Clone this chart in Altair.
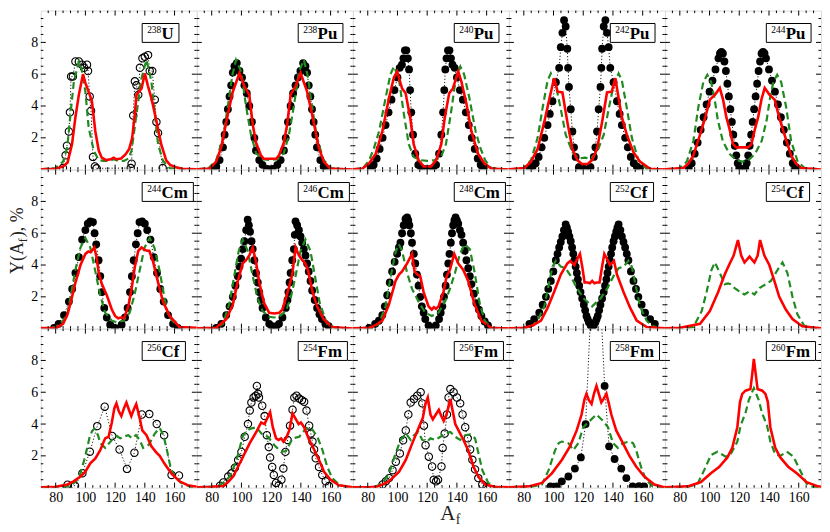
import altair as alt
import pandas as pd

# ---------------- data ----------------
U238_red = [(70,0.02),(80,0.05),(85,0.2),(88,0.45),(91,1.6),(93.3,3.3),(95.6,4.7),(98.4,6.0),(100,5.45),(102.2,4.9),(104.4,4.3),(106.7,2.4),(109,1.2),(111,0.75),(114,0.6),(117,0.65),(119,0.75),(121,0.65),(124,0.7),(127,0.95),(129.5,1.3),(131.5,2.0),(133.3,3.5),(134.4,4.7),(137.8,5.1),(140,6.05),(142,5.3),(144.4,4.5),(147.8,3.06),(151,1.6),(154.4,0.58),(157,0.3),(161,0.15),(165,0.05),(175,0.02)]
U238_green = [(70,0.02),(80,0.1),(85,0.5),(87.8,1.4),(90,3.5),(92.2,5.5),(95.6,6.8),(97.5,6.3),(100,4.9),(102.2,2.65),(105.6,1.2),(108.9,0.6),(112,0.55),(116,0.55),(119,0.65),(122,0.55),(126,0.55),(129,0.7),(131.1,1.2),(134.4,3.5),(137.8,5.75),(141.1,6.9),(144.4,5.55),(146.7,3.5),(148.9,1.6),(152.2,0.55),(156.7,0.1),(165,0.02),(175,0.01)]
U238_exp = [(84.9,0.1),(86.7,0.9),(87.6,1.5),(88.9,2.4),(89.6,3.6),(90.4,5.85),(91.6,5.85),(93.3,6.8),(95.6,6.8),(97.8,6.6),(99.1,6.4),(101.1,6.6),(101.8,6.2),(102.9,4.6),(103.8,3.7),(105.1,0.8),(106.4,0.2),(107.5,0.08),(130.5,0.1),(131.1,0.37),(132.2,3.4),(133.3,5.55),(134.4,5.3),(135.6,4.7),(136.7,6.4),(138.4,7.0),(140,7.1),(142.2,7.2),(143.3,6.2),(145,6.2),(146.7,4.4),(147.8,3.0),(148.9,2.3),(152,0.1)]

Pu238_red = [(70,0.02),(78.7,0.07),(83,0.5),(86.4,1.4),(90.9,3.5),(94.2,4.9),(98.7,6.07),(102,5.24),(105.3,4.7),(107.6,2.85),(109.8,1.7),(113.1,0.9),(115,0.68),(119,0.68),(123.4,0.68),(125.3,0.9),(128.6,1.7),(130.8,2.85),(133.1,4.7),(136.4,5.24),(139.8,6.07),(144.2,4.9),(147.5,3.5),(152,1.4),(155.4,0.5),(159.7,0.07),(175,0.01)]
Pu238_green = [(70,0.01),(78,0.1),(83.1,0.6),(87.6,2.0),(90.9,4.0),(93.8,5.9),(96.4,6.9),(99.8,6.17),(103.1,4.0),(106.4,2.2),(109.8,1.05),(114.2,0.65),(119.2,0.6),(124.2,0.65),(128.6,1.05),(132,2.2),(135.3,4.0),(138.7,6.17),(142,6.9),(144.6,5.9),(147.5,4.0),(150.8,2.0),(155.3,0.6),(160.4,0.1),(170,0.01)]
Pu238_exp = [(80.9,0.05),(83.1,0.2),(85.3,0.6),(87.6,1.4),(88.7,2.2),(89.8,3.0),(90.9,3.8),(92,4.6),(93.1,5.3),(94.2,6.1),(95.3,6.5),(96.9,6.7),(98.7,6.2),(100.4,5.8),(102,5.3),(103.6,4.8),(105.3,4.0),(107.1,3.0),(108.7,2.0),(109.8,1.2),(112,0.6),(114.2,0.3),(117.6,0.05),(121,0.05),(124.2,0.3),(126.4,0.6),(128.6,1.2),(129.8,2.0),(131.3,3.0),(133.1,4.0),(134.8,4.8),(136.4,5.3),(138,5.8),(139.7,6.2),(141.5,6.7),(143.1,6.5),(144.2,6.1),(145.3,5.3),(146.4,4.6),(147.5,3.8),(148.6,3.0),(149.7,2.2),(150.8,1.4),(153.1,0.6),(155.3,0.2),(157.5,0.05)]

Pu240_red = [(70,0.02),(76.5,0.07),(81,0.4),(85.4,1.0),(89.8,2.4),(94.3,4.5),(97.6,5.8),(99.8,6.17),(103.1,5.1),(105.5,4.8),(108.7,3.2),(110.9,1.6),(114.2,0.6),(117.6,0.2),(122.6,0.2),(126,0.6),(129.5,1.6),(131.7,3.2),(134.8,4.8),(137.3,5.1),(140.9,6.17),(143.1,5.5),(146.5,4.1),(149.8,2.4),(154.2,1.0),(158.5,0.4),(163,0.07),(175,0.01)]
Pu240_green = [(70,0.01),(77,0.1),(81,0.6),(84,1.3),(87.6,2.4),(92,4.5),(95.3,6.0),(97.6,6.48),(100.9,5.75),(104.3,3.5),(107.6,1.6),(110.9,0.8),(115,0.6),(120,0.55),(125,0.6),(129.3,0.8),(132.6,1.6),(135.9,3.5),(139.3,5.75),(142.3,6.48),(144.8,6.0),(148.4,4.5),(152.6,2.4),(156,1.3),(159,0.6),(163,0.1),(175,0.01)]
Pu240_exp = [(82,0.1),(84,0.3),(86,0.7),(88,1.3),(90,2.0),(92,2.8),(94,3.6),(96,4.4),(98,5.0),(100,5.8),(101.5,6.4),(103,6.6),(104,7.0),(105,7.5),(106,7.5),(107,7.0),(107.8,6.3),(108.5,5.0),(109.3,3.6),(110.5,2.2),(112,1.0),(114,0.3),(116,0.1),(118,0.05),(122,0.05),(124,0.1),(126,0.3),(128,1.0),(129.5,2.2),(130.7,3.6),(131.5,5.0),(132.2,6.3),(133,7.0),(134,7.5),(135,7.5),(136,7.0),(137,6.6),(138.5,6.4),(140,5.8),(142,5.0),(144,4.4),(146,3.6),(148,2.8),(150,2.0),(152,1.3),(154,0.7),(156,0.3),(158,0.1)]

Pu242_red = [(70,0.02),(80.4,0.1),(84.9,0.5),(89.3,1.3),(93.8,3.0),(97.1,4.4),(100.4,5.75),(102.8,4.9),(106,4.85),(109.3,3.0),(112.7,1.3),(116,0.6),(119,0.35),(123,0.35),(126,0.6),(129.3,1.3),(132.7,3.0),(136,4.85),(139.2,4.9),(141.6,5.75),(143.8,4.5),(146,3.3),(149.3,2.2),(153.8,1.1),(158.2,0.5),(164.9,0.05),(175,0.01)]
Pu242_green = [(70,0.01),(80,0.1),(84.9,0.6),(89.3,2.0),(92.7,3.9),(96,5.6),(98.2,6.05),(101.6,5.3),(104.9,3.8),(108.2,2.2),(112.7,1.1),(117,0.7),(121,0.75),(125,0.7),(129.3,1.1),(133.8,2.2),(137.1,3.8),(140.4,5.3),(143.8,6.05),(146,5.6),(149.3,3.9),(152.7,2.0),(157.1,0.6),(162.7,0.05),(175,0.01)]
Pu242_exp = [(83.8,0.07),(86,0.2),(88,0.4),(90,0.8),(92,1.4),(93.8,2.0),(96,2.8),(97.5,3.5),(99.3,4.3),(101.6,5.5),(103.8,6.4),(104.9,7.7),(106,8.6),(107.1,9.4),(108.2,9.0),(109.3,7.6),(109.8,6.4),(110.4,5.2),(111.6,3.8),(112.7,2.4),(113.8,1.4),(114.9,0.8),(117.1,0.15),(121,0.05),(124.9,0.15),(127.1,0.8),(128.2,1.4),(129.3,2.4),(130.4,3.8),(131.6,5.2),(132.2,6.4),(132.7,7.6),(133.8,9.0),(134.9,9.4),(136,8.6),(137.1,7.7),(138.2,6.4),(140.4,5.5),(142.7,4.3),(144.5,3.5),(146,2.8),(148.2,2.0),(150,1.4),(152,0.8),(154,0.4),(156,0.2),(158.2,0.07)]

Pu244_red = [(70,0.02),(82.4,0.1),(86,0.4),(89.1,0.9),(93.6,2.2),(96.9,3.2),(100.2,4.4),(103.6,4.7),(106.9,5.13),(109.1,4.4),(111.3,3.3),(113.6,2.5),(115.8,1.6),(118,1.4),(122,1.4),(126,1.4),(128.2,1.6),(130.4,2.5),(132.7,3.3),(134.9,4.4),(137.1,5.13),(140.4,4.7),(143.8,4.4),(147.1,3.2),(150.4,2.2),(154.9,0.9),(158,0.4),(161.6,0.1),(175,0.01)]
Pu244_green = [(70,0.01),(80,0.1),(84.7,0.5),(89.1,1.8),(92.4,3.9),(95.8,5.5),(98.5,5.96),(101.1,5.5),(103.3,4.5),(105.6,3.1),(108.9,1.8),(113.3,1.0),(117.8,0.6),(122,0.5),(126.2,0.6),(130.7,1.0),(135.1,1.8),(138.4,3.1),(140.7,4.5),(142.9,5.5),(145.5,5.96),(148.2,5.5),(151.6,3.9),(154.9,1.8),(159.3,0.5),(164,0.1),(175,0.01)]
Pu244_exp = [(86,0.1),(88,0.4),(90,1.0),(92,1.7),(94,2.5),(96,3.3),(98,4.1),(100,4.9),(102,5.6),(104,6.3),(106,7.0),(107,7.3),(108,7.4),(109,7.3),(110,6.8),(111,6.2),(112,5.4),(113,4.6),(114,3.8),(115,3.0),(116,2.2),(117,1.5),(118,0.9),(119,0.4),(120,0.1),(122,0.02),(124,0.1),(125,0.4),(126,0.9),(127,1.5),(128,2.2),(129,3.0),(130,3.8),(131,4.6),(132,5.4),(133,6.2),(134,6.8),(135,7.3),(136,7.4),(137,7.3),(138,7.0),(140,6.3),(142,5.6),(144,4.9),(146,4.1),(148,3.3),(150,2.5),(152,1.7),(154,1.0),(156,0.4),(158,0.1)]

Cm244_red = [(70,0.03),(80,0.05),(85,0.3),(88,0.9),(90,1.6),(93.3,2.9),(96.7,4.0),(100,4.7),(102,4.85),(103.5,4.8),(106,5.1),(107.5,4.5),(109,3.5),(111.1,2.8),(114.4,2.1),(117.8,1.2),(120,0.8),(122,0.65),(124,0.7),(126,0.65),(128.9,1.4),(131.1,2.5),(133.3,3.9),(135.6,4.9),(137.8,5.1),(140,4.95),(141.5,4.9),(143,4.9),(145.6,4.2),(148.9,2.9),(152.2,1.7),(156.7,0.8),(163.3,0.1),(175,0.05)]
Cm244_green = [(70,0.01),(80,0.1),(85,0.5),(88,1.0),(90,2.0),(93.3,3.7),(96.7,5.1),(100,5.7),(103.3,5.1),(106.7,3.6),(110,2.1),(113.3,1.0),(117.8,0.5),(121.5,0.4),(125.5,0.5),(129.8,1.0),(133,2.1),(136.4,3.6),(139.8,5.1),(143.3,5.7),(146.4,5.1),(149.8,3.7),(153.1,2.0),(155.3,1.0),(158.5,0.5),(163.3,0.1),(175,0.01)]
Cm244_exp = [(78.9,0.05),(82,0.3),(85.6,0.85),(88.9,1.7),(91.1,2.5),(93.3,3.5),(95.6,4.5),(97.8,5.6),(100,6.2),(101.6,6.6),(103.3,6.75),(105.1,6.7),(106.2,6.0),(107.3,5.3),(108.9,4.3),(110,3.3),(111.1,2.3),(112.7,1.3),(114.4,0.7),(116.7,0.25),(120,0.05),(124.4,0.25),(126.7,0.7),(128.4,1.3),(130,2.3),(131.3,3.3),(132.5,4.3),(134,5.3),(135.2,6.0),(136.4,6.7),(138.2,6.75),(140,6.6),(141.6,6.2),(143.8,5.6),(146,4.5),(148.2,3.5),(150.4,2.5),(152.7,1.7),(155.6,0.85),(159,0.3),(162.2,0.05)]

Cm246_red = [(70,0.02),(83.1,0.05),(89.8,0.6),(94.2,1.5),(97.6,3.0),(100.9,4.1),(103.1,4.3),(105.3,4.6),(107.6,5.1),(109.8,4.2),(112,2.9),(115.3,1.6),(118.7,1.0),(122,0.95),(125.5,1.0),(127.6,1.2),(129.8,1.9),(132,2.6),(134.2,3.4),(136.5,5.1),(138.7,4.6),(141,4.3),(143,4.1),(145,3.6),(147.6,2.4),(150.9,1.4),(155.3,0.6),(160.9,0.1),(175,0.01)]
Cm246_green = [(70,0.01),(83,0.05),(87.6,0.3),(92,1.6),(95.3,3.4),(98.2,4.9),(100.9,5.6),(104.2,4.9),(107.6,3.3),(110.9,1.9),(114.2,1.1),(118.7,0.75),(122,0.7),(125.3,0.75),(129.8,1.1),(133.1,1.9),(136.4,3.3),(139.8,4.9),(143.1,5.6),(146.4,4.9),(149.3,3.4),(152.7,1.6),(157.6,0.3),(163.1,0.05),(175,0.01)]
Cm246_exp = [(83.1,0.05),(86.5,0.3),(89.8,0.85),(92,1.4),(94.2,2.0),(96,2.7),(97.6,3.3),(98.7,3.9),(99.8,4.4),(101,5.0),(102,5.5),(103.2,6.2),(104.2,6.85),(105,6.5),(105.8,6.1),(106.8,5.5),(107.6,5.0),(108.7,4.3),(109.8,3.5),(111,2.9),(112,2.3),(113,1.8),(114.2,1.3),(116.4,0.7),(118.7,0.3),(120.5,0.15),(122,0.1),(123.5,0.15),(125.3,0.3),(127.6,0.7),(129.8,1.3),(131,1.8),(131.6,2.3),(132.4,2.9),(133.1,3.5),(134.2,4.3),(135.3,5.0),(135.9,5.9),(136.4,6.75),(137.5,6.5),(138.7,6.2),(139.8,5.8),(140.9,5.4),(142,5.0),(143.1,4.6),(144.2,4.1),(145.3,3.6),(146.5,3.0),(147.6,2.4),(149.3,1.8),(150.9,1.3),(152.5,0.9),(154.2,0.6),(156.5,0.3),(158.7,0.15)]

Cm248_red = [(70,0.02),(80.9,0.05),(85,0.2),(89.8,0.5),(94.2,1.5),(98.7,3.0),(101,3.4),(103.1,3.6),(106.5,4.1),(109.8,4.7),(111.5,3.6),(113.5,3.4),(115.3,3.3),(117.6,2.3),(120.9,1.4),(122,1.3),(123.1,1.2),(124.5,1.35),(126,1.25),(127.6,1.4),(130.9,2.3),(133.1,3.3),(135.3,3.7),(138.2,4.7),(140.9,4.1),(144.2,3.7),(147.6,3.0),(152,1.5),(156.5,0.5),(163.1,0.05),(175,0.01)]
Cm248_green = [(70,0.01),(82,0.05),(87.6,0.3),(92,1.4),(95.3,3.2),(98.7,4.8),(100.9,5.3),(103.1,4.9),(106.5,3.5),(109.8,2.5),(114.2,1.7),(118.7,1.0),(123.1,0.8),(127.6,1.0),(132,1.7),(135.3,2.5),(138.7,3.5),(142,4.7),(145.3,5.3),(148.7,5.0),(152,3.5),(155.3,1.6),(158.7,0.5),(163.1,0.05),(175,0.01)]
Cm248_exp = [(80.9,0.05),(85,0.3),(87.5,0.5),(89.8,0.85),(91.5,1.4),(93.1,2.1),(94.8,2.9),(96.4,3.6),(98.1,4.2),(99.8,4.7),(101,5.1),(102,5.4),(103.1,6.0),(104.2,6.5),(105.4,6.9),(106.5,7.0),(107.3,6.8),(108,6.5),(109,6.0),(109.8,5.4),(111,4.7),(112,4.1),(113.1,3.4),(114.2,2.7),(115.3,2.0),(116.4,1.4),(117.6,1.0),(118.7,0.6),(120.9,0.2),(123.1,0.05),(125.8,0.2),(128,0.6),(129.1,1.0),(130.2,1.4),(131.3,2.0),(132.4,2.7),(133.3,3.4),(134.2,4.1),(135,4.7),(135.9,5.4),(136.7,6.0),(137.5,6.5),(138.3,6.8),(139.1,7.0),(140,6.8),(140.9,6.6),(142,6.2),(143.1,5.9),(144.2,5.4),(145.3,4.9),(146.4,4.3),(147.6,3.8),(148.7,3.3),(149.8,2.8),(151.4,2.2),(153.1,1.6),(154.8,1.2),(156.5,0.8),(158.7,0.45),(160.9,0.2)]

Cf252_red = [(70,0.02),(80,0.05),(86,0.2),(91.6,0.5),(96,1.3),(100.4,2.3),(104.9,3.4),(109.3,4.1),(111.3,4.25),(114,4.0),(115.5,4.3),(117.8,4.7),(119.5,3.8),(120.9,2.9),(123,2.9),(124.5,2.85),(126,3.0),(127.5,2.85),(129,2.9),(131,2.9),(132.5,3.8),(134.2,4.7),(136.5,4.3),(138,4.0),(140.7,4.25),(142.7,3.4),(147.1,2.3),(151.6,1.3),(156,0.5),(162.7,0.1),(175,0.02)]
Cf252_green = [(70,0.01),(82,0.05),(86,0.2),(89.3,0.5),(93.8,1.4),(97.1,2.9),(99.3,3.9),(101.6,4.27),(104.9,3.9),(108.2,3.8),(111.6,3.3),(116,2.5),(120.4,1.9),(126,1.4),(131.6,1.9),(136,2.5),(140.4,3.3),(143.8,3.8),(147.1,3.9),(150.4,4.27),(152.7,3.9),(154.9,2.9),(158.2,1.4),(162.7,0.5),(166,0.2),(170,0.05),(175,0.01)]
Cf252_exp = [(83.8,0.3),(87,0.6),(90.4,1.0),(92.7,1.5),(94.9,2.0),(96.5,2.5),(98.2,3.0),(99.9,3.6),(101.6,4.3),(102.7,4.7),(103.8,5.1),(104.9,5.45),(106,5.8),(107,6.2),(108.2,6.55),(109,6.35),(109.8,6.1),(110.7,5.8),(111.6,5.5),(112.5,5.1),(113.3,4.7),(114.1,4.3),(114.9,3.9),(115.7,3.5),(116.4,3.1),(117.3,2.7),(118.2,2.3),(119.3,1.9),(120.4,1.5),(121.3,1.15),(122.2,0.8),(123,0.6),(123.8,0.4),(125,0.2),(126,0.05),(127,0.2),(128.2,0.4),(129,0.6),(129.8,0.8),(130.7,1.15),(131.6,1.5),(132.7,1.9),(133.8,2.3),(134.7,2.7),(135.6,3.1),(136.3,3.5),(137.1,3.9),(137.9,4.3),(138.7,4.7),(139.5,5.1),(140.4,5.5),(141.3,5.8),(142.2,6.1),(143,6.35),(143.8,6.55),(145,6.2),(146,5.8),(147.1,5.45),(148.2,5.1),(149.3,4.7),(150.4,4.3),(152.1,3.6),(153.8,3.0),(155.5,2.5),(157.1,2.0),(159.3,1.5),(161.6,1.0),(165,0.6),(168.2,0.3)]

Cf254_red = [(70,0.02),(80.2,0.05),(93.6,0.3),(100.2,1.1),(105.8,2.3),(110.2,3.4),(113.6,4.1),(116.2,4.6),(119.1,5.57),(121.3,4.6),(123.5,4.16),(126.9,4.53),(130.2,4.16),(132.4,4.6),(134,5.57),(136.9,4.6),(140.2,4.0),(143.6,3.0),(146.9,2.0),(151.3,1.2),(155.8,0.6),(162.4,0.15),(175,0.02)]
Cf254_green = [(70,0.01),(85,0.05),(89.1,0.1),(94.7,1.1),(98,2.3),(101.3,3.7),(103.6,4.16),(106.9,3.5),(110.2,2.8),(112.5,2.85),(114,2.8),(116.9,2.55),(121.3,2.25),(123.5,2.15),(126.9,2.35),(130.2,2.15),(133.6,2.55),(138,2.8),(141.3,3.0),(145.8,3.7),(149.1,4.16),(152.4,3.5),(155.8,2.0),(159.1,0.9),(163.6,0.2),(169.1,0.02),(175,0.01)]

Cf256_red = [(70,0.02),(80,0.05),(88,0.2),(92,0.4),(96.7,0.7),(100,1.0),(103.3,1.53),(106.7,1.84),(110,2.36),(113.3,3.1),(115.6,3.2),(117.8,4.1),(119.5,5.0),(120.9,5.3),(122.5,4.8),(124.2,4.5),(126,5.0),(127.6,5.35),(129.3,4.9),(130.9,4.5),(132.5,4.9),(134.2,5.25),(136,4.6),(138.3,3.6),(141.1,3.3),(144.4,2.6),(147.8,2.2),(150,2.0),(153.3,1.5),(157.8,0.9),(163.3,0.4),(168.9,0.15),(175,0.05)]
Cf256_green = [(70,0.01),(85,0.05),(90,0.1),(93.5,0.4),(96.7,0.9),(100,2.0),(102.9,3.2),(104.5,3.55),(106,3.7),(108.5,3.3),(110,2.8),(113.3,2.5),(117.8,3.0),(121.1,3.25),(123.5,3.1),(125.6,3.2),(128.9,3.3),(131.5,3.1),(134,3.3),(136.5,3.0),(138.9,2.5),(142.7,2.7),(146.7,3.4),(148.5,3.6),(150,3.75),(152.5,3.3),(155,2.3),(157.5,1.2),(160,0.7),(164.4,0.3),(171,0.05),(175,0.02)]
Cf256_exp = [(88,0.19),(93,0.12),(98,0.91),(103,2.26),(108,3.87),(113,5.09),(118,3.25),(123,2.4),(128,1.18),(133,2.2),(138,4.6),(143,4.63),(148,4.0),(153,3.3),(158,0.8),(163,0.77)]

Fm254_red = [(70,0.02),(80,0.05),(87.8,0.1),(91,0.35),(94.4,0.7),(100,1.74),(105.6,2.8),(110,3.5),(113.3,4.1),(115.6,4.0),(117.5,4.4),(119.3,4.75),(121.1,3.8),(123.3,3.1),(125,3.0),(126.7,3.1),(128.3,2.9),(130,3.1),(132.2,3.6),(134.4,4.67),(136.7,4.3),(138.5,4.0),(140,4.1),(142.2,3.8),(145.6,3.0),(148.9,2.4),(152.2,1.74),(155.6,1.0),(160,0.5),(165.6,0.15),(175,0.03)]
Fm254_green = [(70,0.01),(83.3,0.08),(87.8,0.3),(92.2,0.7),(96.7,1.74),(101.1,3.3),(105.6,3.7),(110,3.8),(114.4,3.3),(117.8,3.2),(122.2,2.67),(126.7,2.25),(130,2.3),(134.4,3.1),(138.9,3.2),(143.3,3.7),(146.7,3.8),(151.1,3.2),(154.4,2.4),(157.8,1.3),(161.1,0.6),(165.6,0.2),(170,0.05),(175,0.02)]
Fm254_exp = [(85.6,0.12),(87.8,0.33),(91.1,0.7),(93.3,0.9),(95.6,1.25),(97.8,1.74),(100,2.25),(102.2,3.2),(104.4,4.0),(105.6,4.85),(106.7,5.35),(108.2,5.67),(109.6,5.78),(110.4,6.4),(111.2,5.9),(111.8,5.67),(114,5.15),(115.6,4.5),(117.1,3.3),(118.4,2.55),(119.3,1.9),(120.7,1.3),(121.8,0.8),(123.3,0.3),(125.1,0.13),(126.9,0.5),(128.2,1.2),(129.6,2.25),(131.1,3.0),(132.7,3.9),(134.4,4.9),(135.6,5.67),(137.1,5.78),(138.9,5.6),(140.7,5.5),(142.2,5.4),(143.8,4.85),(145.6,3.9),(146.7,3.4),(147.8,2.9),(148.9,2.4),(150,1.85),(152.2,1.3),(154.4,0.8),(156.7,0.4),(158.9,0.1)]

Fm256_red = [(70,0.02),(80,0.03),(85.6,0.05),(90,0.2),(94.4,0.4),(101.1,1.0),(105.6,1.74),(110,2.8),(114.4,3.8),(117.1,4.4),(118.9,5.3),(120.4,5.67),(122.2,4.6),(123.8,4.3),(125.8,4.6),(127.8,4.9),(129.5,4.5),(131.1,4.2),(133,4.6),(135.6,5.57),(137.1,4.85),(138.9,4.0),(141.1,3.6),(144.4,3.0),(147.8,2.3),(151.1,1.33),(154.4,0.7),(158.9,0.2),(165.6,0.05),(175,0.02)]
Fm256_green = [(70,0.01),(85,0.05),(90,0.3),(94.4,0.9),(98.9,2.2),(102.2,3.0),(105.6,3.4),(108.9,3.0),(111.1,3.3),(114,3.5),(116.7,3.0),(120,2.9),(122.2,3.1),(125.6,3.0),(128.9,3.2),(132.2,3.4),(135.6,3.5),(138.9,3.2),(142.2,3.0),(145.6,3.3),(148.9,3.35),(152.2,3.1),(154.4,2.2),(157.1,1.1),(161.1,0.3),(165.6,0.05),(175,0.01)]
Fm256_exp = [(90,0.2),(92.2,0.4),(94.4,0.6),(96.7,1.1),(98.9,1.63),(101.6,2.15),(103.8,2.98),(105.6,3.6),(107.3,4.6),(108.9,5.35),(111.1,5.57),(113.3,5.78),(115.6,6.0),(116.7,5.3),(117.8,3.9),(118.9,2.67),(121.1,1.95),(123.3,1.33),(124.4,0.5),(126,0.4),(127.3,0.5),(129.6,1.33),(130.4,2.5),(131.8,3.4),(133.3,4.6),(134.4,5.67),(135.6,6.2),(137.8,6.0),(140,5.67),(142.2,5.3),(143.8,4.6),(145.6,3.8),(147.3,3.1),(148.9,2.4),(150.4,1.75),(152.2,1.15),(154.4,0.6),(157.1,0.2),(160,0.03)]

Fm258_red = [(70,0.02),(83.3,0.08),(92.2,0.3),(98.9,0.9),(105.6,1.74),(111.1,2.6),(115.6,3.6),(118.9,4.6),(120.7,5.5),(122.2,5.9),(123.8,5.5),(125.6,5.26),(127.2,5.9),(128.9,6.4),(130.5,5.9),(132.2,5.36),(133.8,5.6),(135.6,5.9),(137.2,5.3),(138.9,4.6),(142.2,3.6),(146.7,2.8),(151.1,2.0),(155.6,1.33),(161.1,0.7),(167.8,0.2),(173.3,0.05),(175,0.04)]
Fm258_green = [(70,0.01),(85,0.05),(92.2,0.2),(96.7,1.1),(101.1,2.36),(103.5,2.8),(105.6,2.9),(108,2.85),(110,2.8),(113.3,2.36),(116.7,2.8),(120,3.8),(124.4,4.2),(128.9,4.6),(133.3,4.2),(136.7,3.8),(140,2.8),(143.3,2.5),(146.7,2.8),(151.1,2.9),(153.5,2.8),(155.6,2.36),(158.9,1.3),(162.2,0.5),(166.7,0.08),(175,0.01)]
Fm258_exp = [(98,0.08),(102,0.08),(105.6,0.4),(110,0.7),(114.4,1.2),(118.4,1.9),(121.6,4.0),(126,13.0),(130,15.0),(134.4,6.4),(137.4,2.6),(141.1,1.8),(145.6,1.2),(149,0.6),(153.3,0.08),(157.5,0.1),(161,0.08)]

Fm260_red = [(70,0.02),(85.3,0.08),(94.2,0.35),(100.9,0.9),(106.4,1.3),(112,1.9),(115.3,2.5),(118.7,3.8),(120.5,5.4),(122,5.9),(124.2,6.1),(127.5,6.2),(128.8,7.2),(129.8,8.1),(131,7.2),(132.3,6.2),(135.5,6.1),(137.6,5.9),(139.2,5.4),(140.9,3.8),(144.2,2.5),(147.6,1.9),(153.1,1.3),(158.7,0.9),(165.3,0.35),(173.1,0.08),(175,0.06)]
Fm260_green = [(70,0.01),(85,0.03),(92,0.25),(96.4,1.1),(100.9,2.05),(105.3,2.26),(110.9,1.95),(114.2,2.1),(118.7,2.9),(120.9,3.9),(124.2,4.7),(126.4,5.5),(129.8,6.26),(133.1,5.5),(135.3,4.7),(138.7,3.9),(140.9,2.9),(144.2,2.1),(147.6,2.0),(152,2.26),(156.4,1.95),(160.9,1.1),(165.3,0.25),(169.8,0.03),(175,0.01)]

MASSES = ["238", "238", "240", "242", "244", "244", "246", "248", "252", "254", "256", "254", "256", "258", "260"]
ELEMENTS = ["U", "Pu", "Pu", "Pu", "Pu", "Cm", "Cm", "Cm", "Cf", "Cf", "Cf", "Fm", "Fm", "Fm", "Fm"]
REDS = [U238_red, Pu238_red, Pu240_red, Pu242_red, Pu244_red, Cm244_red, Cm246_red, Cm248_red,
        Cf252_red, Cf254_red, Cf256_red, Fm254_red, Fm256_red, Fm258_red, Fm260_red]
GREENS = [U238_green, Pu238_green, Pu240_green, Pu242_green, Pu244_green, Cm244_green, Cm246_green, Cm248_green,
          Cf252_green, Cf254_green, Cf256_green, Fm254_green, Fm256_green, Fm258_green, Fm260_green]
EXPS = [U238_exp, Pu238_exp, Pu240_exp, Pu242_exp, Pu244_exp, Cm244_exp, Cm246_exp, Cm248_exp,
        Cf252_exp, None, Cf256_exp, Fm254_exp, Fm256_exp, Fm258_exp, None]
HOLLOW = [True, False, False, False, False, False, False, False, False, False, True, True, True, False, False]

X_MAJOR = [80, 100, 120, 140, 160]
X_MINOR = [75, 85, 90, 95, 105, 110, 115, 125, 130, 135, 145, 150, 155, 165, 170]
Y_MAJOR = [2, 4, 6, 8]
Y_MINOR = [0.5, 1, 1.5, 2.5, 3, 3.5, 4.5, 5, 5.5, 6.5, 7, 7.5, 8.5, 9, 9.5]

# ---------------- styling ----------------
W, H = 157, 160
FONT = "Liberation Serif"
RED = "#ff0000"
GREEN = "#1f8a1f"
ELEM_W = {"U": 12.5, "Pu": 20.5, "Cm": 27.0, "Cf": 19.0, "Fm": 25.0}


def frame(pairs):
    return pd.DataFrame(pairs, columns=["A", "Y"])


def one(**kw):
    return pd.DataFrame({k: [v] for k, v in kw.items()})


def panel(i):
    row, col = divmod(i, 5)
    xs = alt.Scale(domain=[70, 175], nice=False, zero=False)
    ys = alt.Scale(domain=[0, 10], nice=False, zero=False)
    if row == 2:
        xax = alt.Axis(values=X_MAJOR, ticks=False, domain=False, grid=False, title=None,
                       labelFont=FONT, labelFontSize=14, labelColor="black", labelPadding=3)
    else:
        xax = None
    if col == 0:
        yax = alt.Axis(values=Y_MAJOR, ticks=False, domain=False, grid=False, title=None,
                       labelFont=FONT, labelFontSize=14, labelColor="black", labelPadding=3)
    else:
        yax = None
    X = alt.X("A:Q", scale=xs, axis=xax)
    Y = alt.Y("Y:Q", scale=ys, axis=yax)

    layers = []
    exp = EXPS[i]
    if exp is not None:
        e = frame(exp)
        layers.append(alt.Chart(e).mark_line(color="black", strokeDash=[1.2, 2], strokeWidth=0.9,
                                             clip=True).encode(x=X, y=Y))
        if HOLLOW[i]:
            pts = alt.Chart(e).mark_point(shape="circle", filled=False, size=55, color="black",
                                          strokeWidth=1.1, opacity=1, clip=True)
        else:
            pts = alt.Chart(e).mark_point(shape="circle", filled=True, size=62, color="black",
                                          opacity=1, clip=True)
        layers.append(pts.encode(x=X, y=Y))
    layers.append(alt.Chart(frame(GREENS[i])).mark_line(color=GREEN, strokeDash=[7, 4], strokeWidth=2.2,
                                                       clip=True).encode(x=X, y=Y))
    layers.append(alt.Chart(frame(REDS[i])).mark_line(color=RED, strokeWidth=2.6,
                                                     clip=True).encode(x=X, y=Y))

    # inward ticks on all four sides
    for vals, L in ((X_MAJOR, 5), (X_MINOR, 2.5)):
        d = pd.DataFrame({"A": vals})
        layers.append(alt.Chart(d).mark_rule(color="black", strokeWidth=1).encode(
            x=X, y=alt.value(H), y2=alt.value(H - L)))
        layers.append(alt.Chart(d).mark_rule(color="black", strokeWidth=1).encode(
            x=X, y=alt.value(0), y2=alt.value(L)))
    for vals, L in ((Y_MAJOR, 5), (Y_MINOR, 2.5)):
        d = pd.DataFrame({"Y": vals})
        layers.append(alt.Chart(d).mark_rule(color="black", strokeWidth=1).encode(
            y=Y, x=alt.value(0), x2=alt.value(L)))
        layers.append(alt.Chart(d).mark_rule(color="black", strokeWidth=1).encode(
            y=Y, x=alt.value(W), x2=alt.value(W - L)))

    # isotope label in a box
    elem = ELEMENTS[i]
    bx0 = 102
    dig_w = 14.5
    bw = 5 + dig_w + ELEM_W[elem] + 5
    layers.append(alt.Chart(one(k=0)).mark_rect(fill="white", stroke="black", strokeWidth=1).encode(
        x=alt.value(bx0), x2=alt.value(bx0 + bw), y=alt.value(13), y2=alt.value(32)))
    layers.append(alt.Chart(one(s=MASSES[i])).mark_text(
        font=FONT, fontSize=9.5, align="left", baseline="alphabetic", color="black").encode(
        text="s:N", x=alt.value(bx0 + 5), y=alt.value(23)))
    layers.append(alt.Chart(one(s=elem)).mark_text(
        font=FONT, fontSize=17, fontWeight="bold", align="left", baseline="alphabetic", color="black").encode(
        text="s:N", x=alt.value(bx0 + 5 + dig_w), y=alt.value(28.5)))

    # axis titles
    if i == 5:
        cx = -23
        y0 = 105
        layers.append(alt.Chart(one(s="Y(A")).mark_text(
            font=FONT, fontSize=18, angle=270, align="left", baseline="middle", color="#222222").encode(
            text="s:N", x=alt.value(cx), y=alt.value(y0)))
        layers.append(alt.Chart(one(s="f")).mark_text(
            font=FONT, fontSize=12, angle=270, align="left", baseline="middle", color="#222222").encode(
            text="s:N", x=alt.value(cx + 5), y=alt.value(y0 - 32)))
        layers.append(alt.Chart(one(s="), %")).mark_text(
            font=FONT, fontSize=18, angle=270, align="left", baseline="middle", color="#222222").encode(
            text="s:N", x=alt.value(cx), y=alt.value(y0 - 37)))
    if i == 12:
        layers.append(alt.Chart(one(s="A")).mark_text(
            font=FONT, fontSize=21, align="left", baseline="alphabetic", color="#222222").encode(
            text="s:N", x=alt.value(88), y=alt.value(H + 33)))
        layers.append(alt.Chart(one(s="f")).mark_text(
            font=FONT, fontSize=14, align="left", baseline="alphabetic", color="#222222").encode(
            text="s:N", x=alt.value(103.5), y=alt.value(H + 37)))

    return alt.layer(*layers).properties(width=W, height=H)


chart = alt.concat(*[panel(i) for i in range(15)], columns=5, spacing=0, bounds="flush").properties(
    padding={"left": 0, "top": 0, "right": 0, "bottom": 0}
).configure_view(stroke="black", strokeWidth=1.6).configure(background="white")

chart.save("out.html", embed_options={"renderer": "svg", "actions": False})
